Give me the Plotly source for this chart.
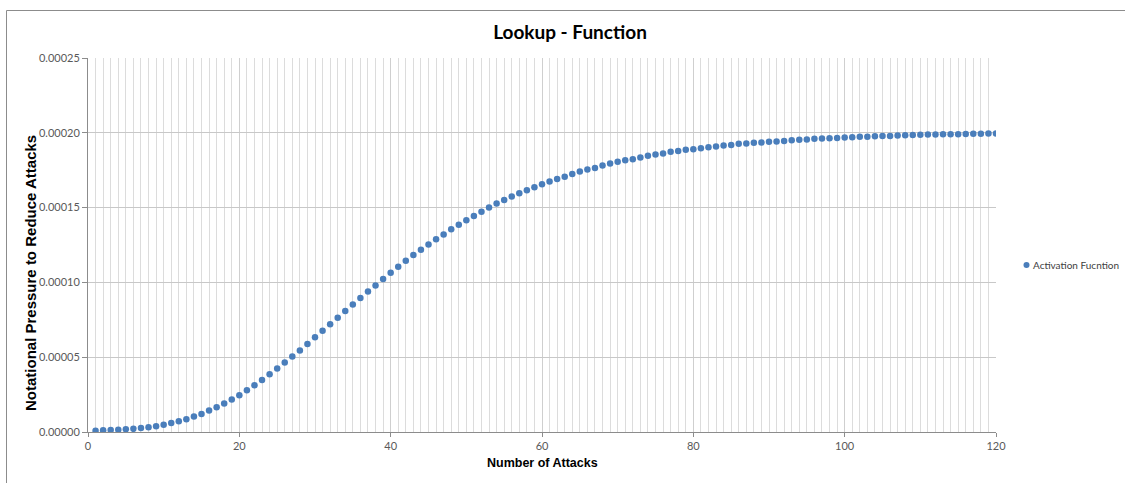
import plotly.graph_objects as go

attacks = list(range(1, 121))
pressure_e6 = [
    0.9, 1.1, 1.3, 1.5, 1.8, 2.1, 2.6, 3.1, 3.8, 4.9,
    6.0, 7.2, 8.5, 10.3, 12.1, 14.3, 16.5, 19.0, 21.7, 24.6,
    27.9, 31.3, 34.8, 38.6, 42.4, 46.4, 50.5, 54.5, 58.9, 63.4,
    67.6, 72.1, 76.3, 80.8, 85.3, 89.5, 94.0, 98.0, 102.2, 106.5,
    110.5, 114.5, 118.3, 121.9, 125.4, 128.8, 132.1, 135.5, 138.6, 141.5,
    144.4, 147.3, 150.0, 152.7, 155.1, 157.4, 159.6, 161.6, 163.6, 165.6,
    167.4, 169.2, 170.7, 172.5, 174.1, 175.4, 176.5, 178.1, 179.4, 180.6,
    181.7, 182.4, 183.5, 184.6, 185.5, 186.1, 187.3, 187.9, 188.6, 189.0,
    189.7, 190.4, 190.8, 191.5, 191.9, 192.6, 192.8, 193.3, 193.5, 194.0,
    194.2, 194.6, 195.1, 195.3, 195.5, 196.0, 196.2, 196.4, 196.6, 196.9,
    197.0, 197.3, 197.4, 197.7, 197.8, 197.9, 198.2, 198.3, 198.6, 198.7,
    198.8, 198.9, 199.0, 199.0, 199.1, 199.2, 199.3, 199.4, 199.5, 199.6,
]
pressure = [v * 1e-6 for v in pressure_e6]

series_name = "Activation Fucntion"
chart_title = "Lookup - Function"
x_title = "Number of Attacks"
y_title = "Notational Pressure to Reduce Attacks"

W, H = 1125, 483
L, R, T, B = 88, 129, 58, 51
pw, ph = W - L - R, H - T - B
marker_color = "#4A7EBB"

def px_x(p):
    return (p - L) / pw

def px_y(p):
    return (H - B - p) / ph

fig = go.Figure()
fig.add_trace(go.Scatter(
    x=attacks, y=pressure, mode="markers", name=series_name, showlegend=False,
    marker=dict(color=marker_color, size=6.5, line=dict(width=0)),
))

tick_font = dict(family="Lato, Liberation Sans, sans-serif", size=11, color="#595959")

fig.update_layout(
    width=W, height=H,
    margin=dict(l=L, r=R, t=T, b=B, autoexpand=False),
    paper_bgcolor="white", plot_bgcolor="white",
    showlegend=False,
    title=dict(text="<b>" + chart_title + "</b>", x=570 / W, xanchor="center",
               xref="container", yref="container", y=1 - 32 / H, yanchor="middle",
               font=dict(family="Lato, Liberation Sans, sans-serif", size=19, color="#000000")),
    xaxis=dict(range=[0, 120], dtick=20, tick0=0, showgrid=True, gridcolor="#cfcfcf",
               gridwidth=1, zeroline=False, showline=True, linecolor="#8c8c8c",
               ticks="outside", ticklen=4, tickcolor="#8c8c8c", tickfont=tick_font,
               minor=dict(dtick=1, showgrid=True, gridcolor="#dcdcdc", gridwidth=1, ticks=""),
               fixedrange=True),
    yaxis=dict(range=[0, 0.00025], dtick=0.00005, tick0=0, tickformat=".5f",
               showgrid=True, gridcolor="#c8c8c8", gridwidth=1, zeroline=False,
               showline=True, linecolor="#8c8c8c", ticks="outside", ticklen=5,
               tickcolor="#8c8c8c", tickfont=tick_font, fixedrange=True),
    annotations=[
        dict(text="<b>" + x_title + "</b>", xref="paper", yref="paper",
             x=px_x(542), y=px_y(463), xanchor="center", yanchor="middle", showarrow=False,
             font=dict(family="Liberation Sans, Arial, sans-serif", size=12.5, color="#000000")),
        dict(text="<b>" + y_title + "</b>", xref="paper", yref="paper",
             x=px_x(30), y=px_y(273), xanchor="center", yanchor="middle", showarrow=False,
             textangle=-90,
             font=dict(family="Liberation Sans, Arial, sans-serif", size=15, color="#000000")),
        dict(text=series_name, xref="paper", yref="paper",
             x=px_x(1031), y=px_y(265), xanchor="left", yanchor="middle", showarrow=False,
             font=dict(family="Lato, Liberation Sans, sans-serif", size=10, color="#404040")),
    ],
    shapes=[
        dict(type="line", xref="paper", yref="paper", x0=px_x(6.5), y0=px_y(483),
             x1=px_x(6.5), y1=px_y(10.5), line=dict(color="#8c8c8c", width=1)),
        dict(type="line", xref="paper", yref="paper", x0=px_x(6.5), y0=px_y(10.5),
             x1=px_x(1125), y1=px_y(10.5), line=dict(color="#8c8c8c", width=1)),
        dict(type="circle", xref="paper", yref="paper",
             x0=px_x(1023.5), x1=px_x(1029.5), y0=px_y(262), y1=px_y(268),
             fillcolor=marker_color, line=dict(width=0)),
    ],
)

fig.write_html("out.html")
